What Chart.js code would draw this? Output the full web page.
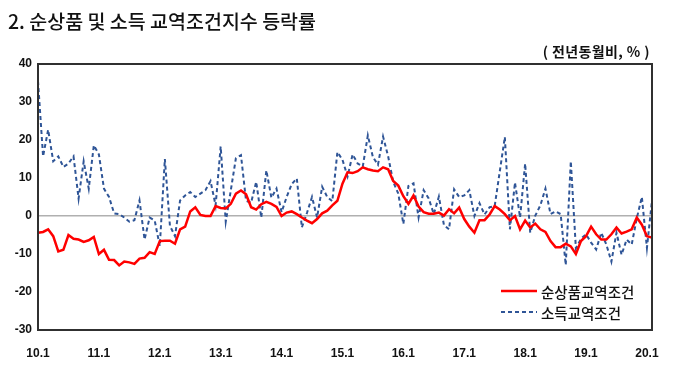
<!DOCTYPE html>
<html>
<head>
<meta charset="utf-8">
<script src="https://cdn.jsdelivr.net/npm/chart.js@4/dist/chart.umd.min.js"></script>
<style>
  body { margin:0; background:#fff; }
  .wrap { position:relative; width:680px; height:375px; }
  .title { position:absolute; left:8px; top:6px; font-family:'Noto Sans CJK KR',sans-serif; font-size:19.5px; font-weight:500; color:#111; }
  .unit { position:absolute; right:30px; top:41px; font-family:'Noto Sans CJK KR',sans-serif; font-size:14px; font-weight:700; color:#111; letter-spacing:0.4px; }
</style>
</head>
<body>
<div class="wrap">
  <canvas id="chart" width="680" height="375"></canvas>
  <div class="title">2. 순상품 및 소득 교역조건지수 등락률</div>
  <div class="unit">( 전년동월비, % )</div>
</div>
<script>
// monthly categories 2010.1 ~ 2020.2
const months = [];
for (let y = 10; y <= 20; y++) {
  for (let m = 1; m <= 12; m++) {
    if (y === 20 && m > 2) break;
    months.push(y + '.' + m);
  }
}
const yTicks = [-30, -20, -10, 0, 10, 20, 30, 40];

// 순상품교역조건 (전년동월비, %)
const netBarter = [
  -4.4, -4.2, -3.5, -5.3, -9.3, -8.9, -5, -6, -6.2, -6.8, -6.4, -5.5,
  -10, -8.9, -11.5, -11.6, -13, -12, -12.2, -12.6, -11.2, -11, -9.5, -10,
  -6.6, -6.5, -6.5, -7.3, -3.5, -2.8, 1.2, 2.3, 0.3, 0, 0, 2.6,
  2.1, 2, 3.2, 5.9, 6.7, 5.7, 2.3, 1.7, 3.1, 3.7, 3.2, 2.4,
  0, 0.9, 1.2, 0.5, -0.4, -1.2, -1.9, -0.8, 0.7, 1.4, 2.8, 4,
  8.5, 11.5, 11.3, 11.8, 12.8, 12.3, 12, 11.8, 12.8, 12.3, 9.2, 8,
  5.2, 3.2, 5.4, 2.5, 1, 0.6, 0.6, 0.9, 0.1, 1.8, 0.7, 2.2,
  -0.8, -2.8, -4.4, -1.1, -1.1, 0.4, 2.6, 1.7, 0.5, -1.1, 0, -3.5,
  -1.2, -3, -2, -3.5, -4.2, -6.6, -8.2, -8.2, -7.3, -8, -10, -6.6,
  -5.3, -2.8, -4.8, -6.2, -6.2, -4.8, -3, -4.6, -4.1, -3.5, -0.4, -2.3,
  -5.3, -5.7
];

// 소득교역조건 (전년동월비, %)
const income = [
  35.5, 15.7, 22.7, 14.4, 15.7, 12.9, 13.8, 15.7, 4.6, 14.4, 7.2, 18.6,
  16.2, 7.2, 5, 0.7, 0.5, -0.4, -1.5, -1.1, 4.1, -6.2, -0.4, -1.2,
  -7.9, 15, -2.6, -5.3, 4.1, 5.4, 6.3, 5, 5.9, 6.8, 9.2, 2.8,
  18.3, -1.5, 6.8, 15.2, 16, 4, 3.5, 9, -0.4, 12, 4.8, 7.2,
  1, 5, 8.4, 9.9, -3, 0.8, 5, -0.4, 7.7, 5, 3.9, 16.8,
  14.8, 10.4, 16.2, 13.8, 13, 21.2, 15.5, 13.5, 20.9, 15.7, 9, 5.9,
  -2.1, 7.9, 8.6, -0.4, 6.8, 4.6, 0.5, 5.1, -2.4, -3.5, 7, 5,
  5.4, 6.8, 0, 3.4, 0.4, 2.3, 2.6, 11.7, 20.8, -3.5, 8.8, -0.4,
  13.8, -4.4, 0.1, 2.8, 7.2, 0.5, 1.2, 0.5, -12.9, 14.4, -8.5, -6,
  -4.8, -7, -8.8, -4.4, -7.5, -12, -4.4, -10.2, -6.2, -7.5, -0.6, 5,
  -8.4, 4.1
];

const tickFont = { family: 'Liberation Sans, Arial, sans-serif', size: 12, weight: 'bold' };

// frame around the plot + legend inside the plot (bottom right)
const framePlugin = {
  id: 'frame',
  afterDraw(chart) {
    const { ctx, chartArea: a } = chart;
    ctx.save();
    ctx.strokeStyle = '#303030';
    ctx.lineWidth = 2;
    ctx.strokeRect(a.left, a.top, a.right - a.left, a.bottom - a.top);

    // legend
    const x0 = 501, x1 = 537, ys = [291, 312];
    ctx.font = '500 14.5px "Noto Sans CJK KR", sans-serif';
    ctx.textBaseline = 'middle';
    chart.data.datasets.forEach((ds, i) => {
      ctx.beginPath();
      ctx.strokeStyle = ds.borderColor;
      ctx.lineWidth = ds.borderWidth;
      ctx.setLineDash(ds.borderDash || []);
      ctx.moveTo(x0, ys[i]);
      ctx.lineTo(x1, ys[i]);
      ctx.stroke();
      ctx.setLineDash([]);
      ctx.fillStyle = '#111';
      ctx.fillText(ds.label, 541, ys[i] + 1);
    });
    ctx.restore();
  }
};

new Chart(document.getElementById('chart'), {
  type: 'line',
  data: {
    labels: months,
    datasets: [
      {
        label: '순상품교역조건',
        data: netBarter,
        borderColor: '#ff0000',
        borderWidth: 2.5,
        pointRadius: 0,
        tension: 0,
        order: 1
      },
      {
        label: '소득교역조건',
        data: income,
        borderColor: '#2f5597',
        borderWidth: 2,
        borderDash: [4, 3],
        pointRadius: 0,
        tension: 0,
        order: 2
      }
    ]
  },
  options: {
    responsive: false,
    animation: false,
    layout: { padding: { left: 0, right: 28, top: 64, bottom: 15 } },
    plugins: { legend: { display: false }, tooltip: { enabled: false } },
    scales: {
      x: {
        offset: false,
        grid: { display: false },
        border: { display: false },
        afterFit: s => { s.height = 30; },
        ticks: {
          autoSkip: false,
          maxRotation: 0,
          padding: 8,
          color: '#111',
          font: tickFont,
          callback: (v, i) => months[i].endsWith('.1') ? months[i] : ''
        }
      },
      y: {
        min: -30,
        max: 40,
        afterFit: s => { s.width = 38; },
        afterBuildTicks: s => { s.ticks = yTicks.map(v => ({ value: v })); },
        border: { display: false },
        grid: {
          color: c => c.tick && c.tick.value === 0 ? '#b0b0b0' : 'rgba(0,0,0,0)',
          lineWidth: 1.5,
          drawTicks: false
        },
        ticks: { padding: 6, color: '#111', font: tickFont }
      }
    }
  },
  plugins: [framePlugin]
});
</script>
</body>
</html>
